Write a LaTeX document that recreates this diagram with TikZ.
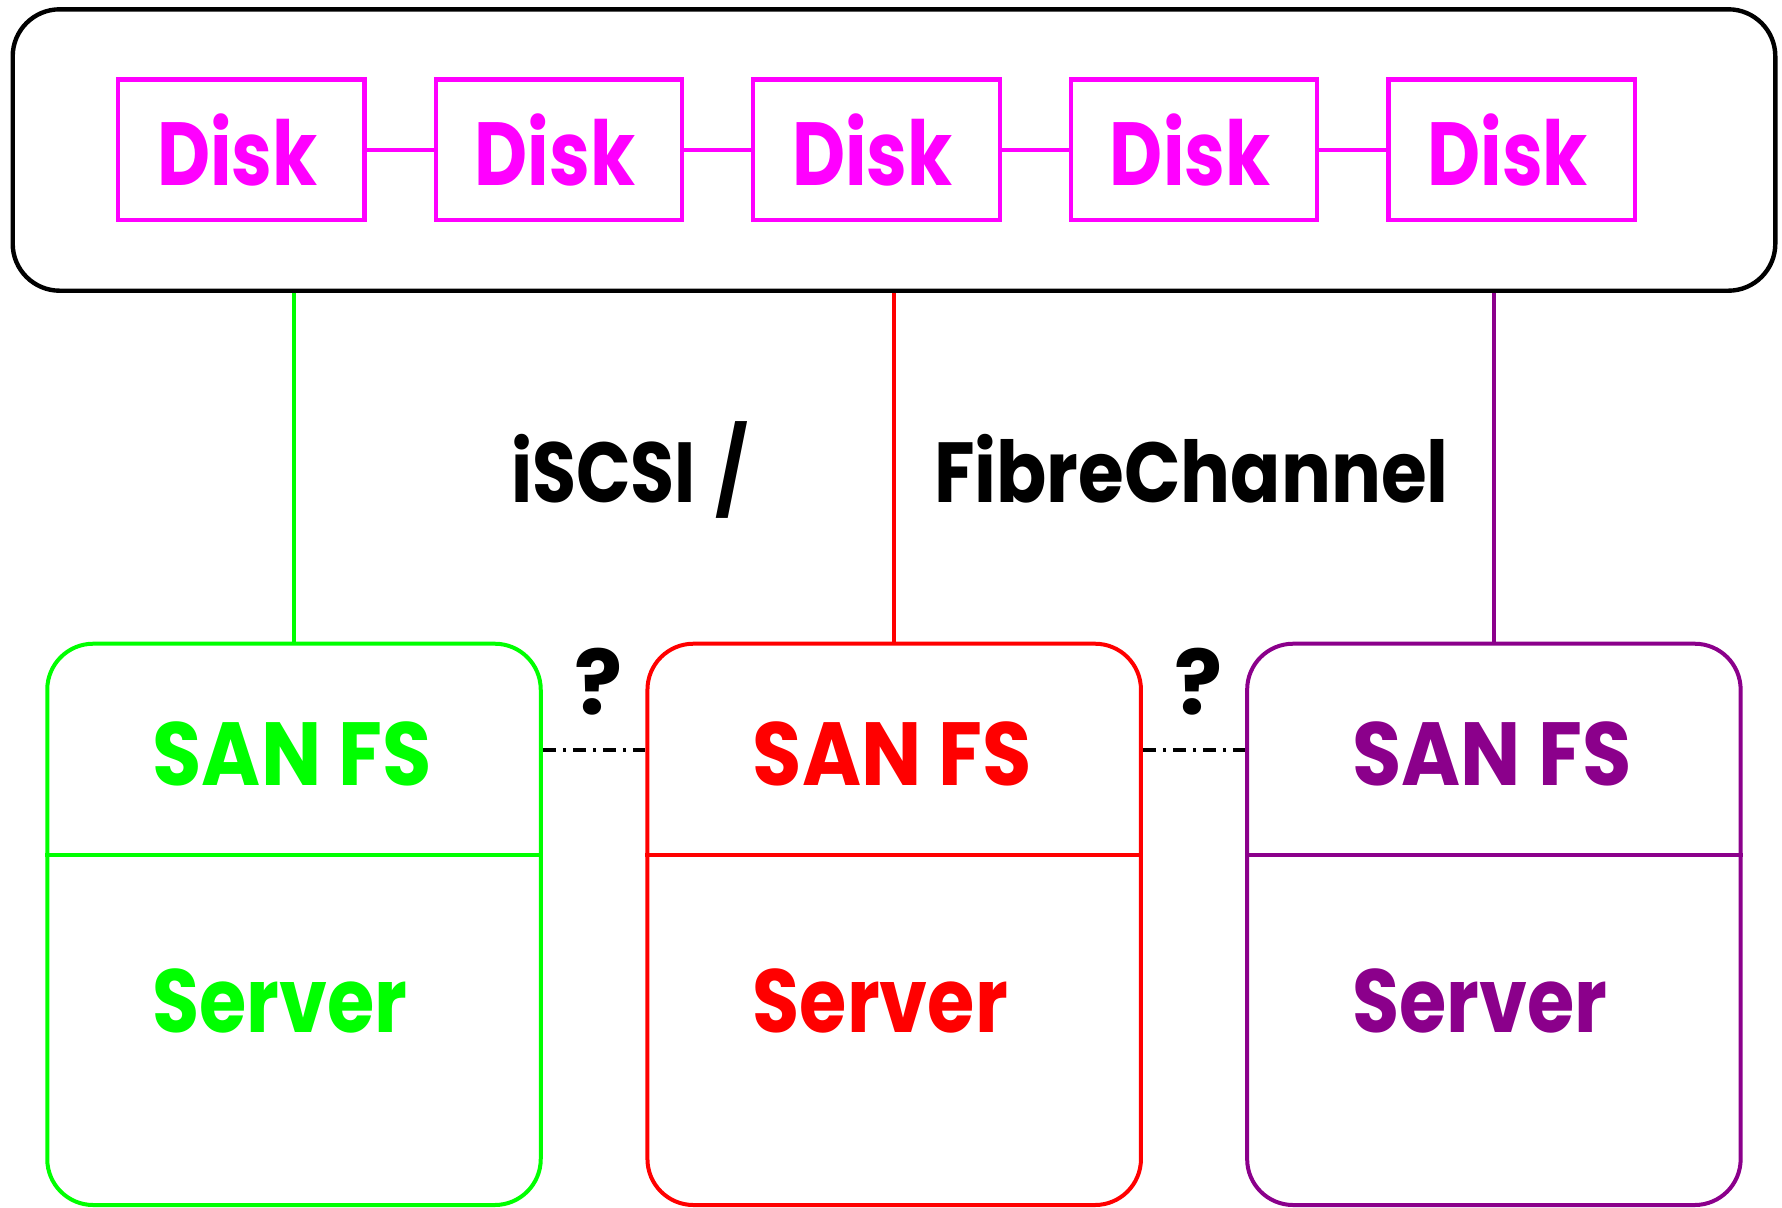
\documentclass[tikz,border=0pt]{standalone}
\usepackage{fontspec}
\setmainfont{Poppins}
\definecolor{diskmag}{HTML}{FF00FF}
\definecolor{fsgreen}{HTML}{00FF00}
\definecolor{fsred}{HTML}{FF0000}
\definecolor{fspurple}{HTML}{8B008B}
% horizontal squeeze for the wide geometric face
\newcommand{\squeeze}[2]{\scalebox{#1}[1]{#2}}
\begin{document}
\begin{tikzpicture}[x=0.5pt,y=-0.5pt,
  pool/.style={draw=black,line width=2.2pt,rounded corners=23.5pt,
    minimum width=881.3pt,minimum height=140.7pt,inner sep=0pt},
  diskbox/.style={draw=diskmag,line width=2.1pt,
    minimum width=123.2pt,minimum height=70.2pt,inner sep=0pt},
  disklink/.style={draw=diskmag,line width=2.1pt},
  disktext/.style={text=diskmag,font=\bfseries\fontsize{44.8}{48}\selectfont,
    inner sep=0pt,anchor=base},
  fsbox/.style={draw=#1,line width=2pt,rounded corners=23pt,
    minimum width=246.75pt,minimum height=280.65pt,inner sep=0pt},
  fstext/.style={text=#1,font=\bfseries\fontsize{44.8}{48}\selectfont,
    inner sep=0pt,anchor=base west},
  uplink/.style={draw=#1,line width=2pt},
  peer/.style={draw=black,line width=2pt,
    dash pattern=on 6.5pt off 3.5pt on 1.5pt off 3.5pt},
  qmark/.style={font=\bfseries\fontsize{44.8}{48}\selectfont,
    inner sep=0pt,anchor=base},
  netlabel/.style={font=\bfseries\fontsize{42.6}{46}\selectfont,
    inner sep=0pt,anchor=base west}]
\useasboundingbox (0,0) rectangle (1782,1207);

% storage pool holding the chained disks
\node[pool] (pool) at (894,150) {};
\foreach \i in {1,...,5}{
  \node[diskbox] (d\i) at ({241.2+317.6*(\i-1)},149.7) {};
  \node[disktext] (t\i) at ({237.4+317.6*(\i-1)},185) {\squeeze{0.815}{Disk}};
}
\foreach \a/\b in {1/2,2/3,3/4,4/5}{
  \draw[disklink] (d\a.east) -- (d\b.west);
}

% network label
\node[netlabel] (iscsi) at (510.6,502.7)
  {\squeeze{0.84}{iSCSI}\hspace{10pt}\squeeze{0.85}{/}};
\node[netlabel] (fc) at (933.8,502.7) {\squeeze{0.87}{FibreChannel}};

% SAN file system servers
\foreach \n/\c/\x in {1/fsgreen/294,2/fsred/894.2,3/fspurple/1493.9}{
  \node[fsbox=\c] (s\n) at (\x,924.35) {};
  \coordinate (cut\n) at (0,855.3);
  \draw[uplink=\c] (s\n.west |- cut\n) -- (s\n.east |- cut\n);
  \node[fstext=\c] (sa\n) at ([xshift=53.5pt]s\n.west |- 0,785) {\squeeze{0.895}{SAN FS}};
  \node[fstext=\c] (sv\n) at ([xshift=53.5pt]s\n.west |- 0,1032) {\squeeze{0.855}{Server}};
  \draw[uplink=\c] (pool.south -| s\n.north) -- (s\n.north);
}

% uncertain links between servers
\coordinate (peerline) at (0,749.5);
\draw[peer] (s1.east |- peerline) -- (s2.west |- peerline);
\draw[peer] (s2.east |- peerline) -- (s3.west |- peerline);
\node[qmark] (q1) at (598.5,714) {?};
\node[qmark] (q2) at (1198.5,714) {?};
\end{tikzpicture}
\end{document}
